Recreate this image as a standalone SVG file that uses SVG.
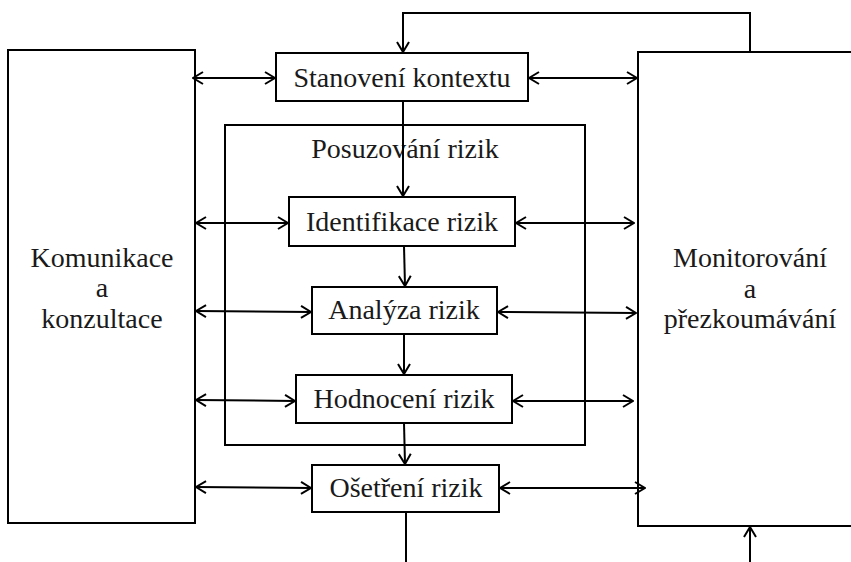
<svg xmlns="http://www.w3.org/2000/svg" width="851" height="562" viewBox="0 0 851 562">
<defs>
<style>
.box{fill:#fff;stroke:#000;stroke-width:2}
.frame{fill:none;stroke:#000;stroke-width:2}
.ln{fill:none;stroke:#000;stroke-width:2}
.t{font-family:'Liberation Serif','Times New Roman','DejaVu Serif',serif;font-size:28px;fill:#1a1a1a;text-anchor:middle}
</style>
<marker id="ah" viewBox="0 0 12 14" refX="11" refY="7" markerWidth="12" markerHeight="14" markerUnits="userSpaceOnUse" orient="auto-start-reverse">
<path d="M1,1 L11,7 L1,13" fill="none" stroke="#000" stroke-width="2"/>
</marker>
</defs>
<rect width="851" height="562" fill="#fff"/>
<g id="posuzovani">
<rect class="frame" x="225" y="125" width="360" height="320"/>
<text class="t" x="405" y="158">Posuzování rizik</text>
</g>
<g id="komunikace">
<rect class="box" x="8" y="50" width="187" height="473"/>
<text class="t" x="102" y="267">Komunikace</text>
<text class="t" x="102" y="297">a</text>
<text class="t" x="102" y="328">konzultace</text>
</g>
<g id="monitorovani">
<rect class="box" x="638" y="52" width="220" height="474"/>
<text class="t" x="750" y="267">Monitorování</text>
<text class="t" x="750" y="298">a</text>
<text class="t" x="750" y="328">přezkoumávání</text>
</g>
<g id="stanoveni">
<rect class="box" x="276" y="53" width="252" height="48"/>
<text class="t" x="402" y="87">Stanovení kontextu</text>
</g>
<g id="identifikace">
<rect class="box" x="289" y="197" width="226" height="49"/>
<text class="t" x="402" y="231">Identifikace rizik</text>
</g>
<g id="analyza">
<rect class="box" x="312" y="287" width="185" height="47"/>
<text class="t" x="404" y="319">Analýza rizik</text>
</g>
<g id="hodnoceni">
<rect class="box" x="296" y="375" width="216" height="48"/>
<text class="t" x="404" y="408">Hodnocení rizik</text>
</g>
<g id="osetreni">
<rect class="box" x="312" y="465" width="187" height="47"/>
<text class="t" x="406" y="497">Ošetření rizik</text>
</g>
<g id="connectors">
<path class="ln" d="M750,52 V13 H403 V52" marker-end="url(#ah)"/>
<path class="ln" d="M403,101 V196" marker-end="url(#ah)"/>
<path class="ln" d="M404,246 L405,286" marker-end="url(#ah)"/>
<path class="ln" d="M404,334 V374" marker-end="url(#ah)"/>
<path class="ln" d="M404,423 L405,464" marker-end="url(#ah)"/>
<path class="ln" d="M406,512 V562"/>
<path class="ln" d="M750,562 V527" marker-end="url(#ah)"/>
<path class="ln" d="M193,78 H275" marker-start="url(#ah)" marker-end="url(#ah)"/>
<path class="ln" d="M529,78 H637" marker-start="url(#ah)" marker-end="url(#ah)"/>
<path class="ln" d="M196,223 H288" marker-start="url(#ah)" marker-end="url(#ah)"/>
<path class="ln" d="M516,223 H634" marker-start="url(#ah)" marker-end="url(#ah)"/>
<path class="ln" d="M196,311 L311,312" marker-start="url(#ah)" marker-end="url(#ah)"/>
<path class="ln" d="M498,312 L636,313" marker-start="url(#ah)" marker-end="url(#ah)"/>
<path class="ln" d="M196,400 L295,401" marker-start="url(#ah)" marker-end="url(#ah)"/>
<path class="ln" d="M513,401 L633,401" marker-start="url(#ah)" marker-end="url(#ah)"/>
<path class="ln" d="M196,487 L311,488" marker-start="url(#ah)" marker-end="url(#ah)"/>
<path class="ln" d="M500,488 H645" marker-start="url(#ah)" marker-end="url(#ah)"/>
</g>
</svg>
